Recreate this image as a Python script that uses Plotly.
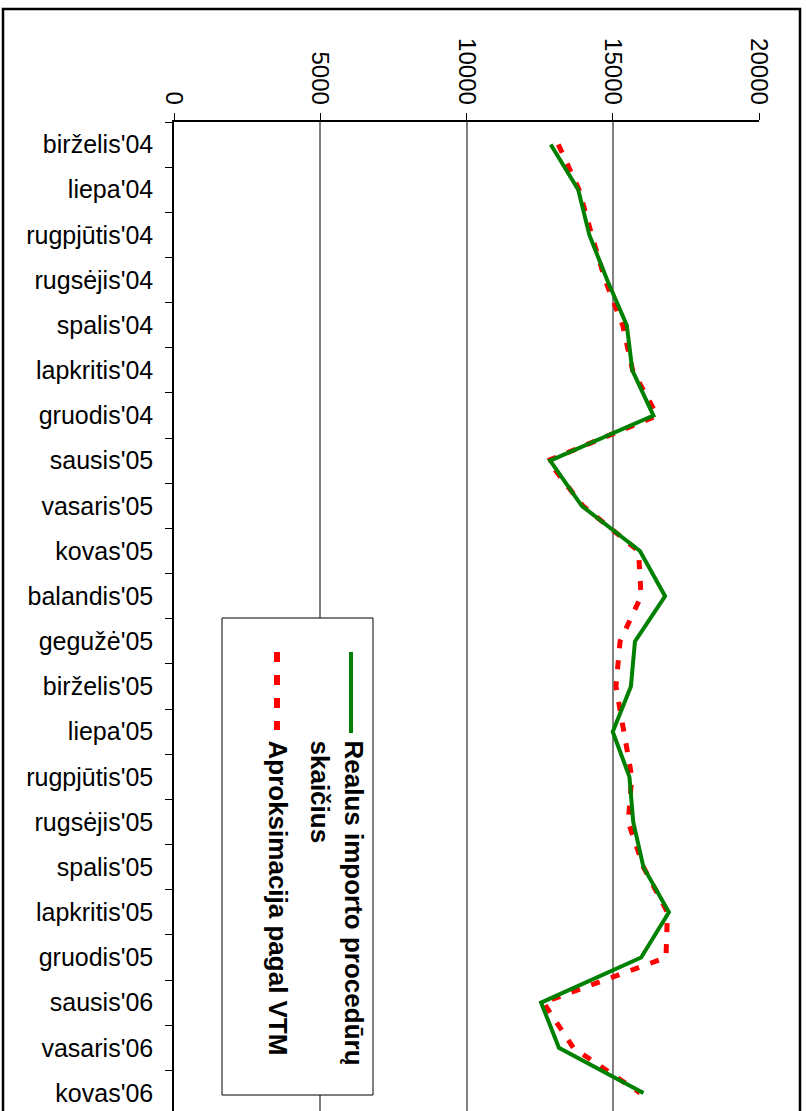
import plotly.graph_objects as go

months = ["birželis'04", "liepa'04", "rugpjūtis'04", "rugsėjis'04", "spalis'04",
          "lapkritis'04", "gruodis'04", "sausis'05", "vasaris'05", "kovas'05",
          "balandis'05", "gegužė'05", "birželis'05", "liepa'05", "rugpjūtis'05",
          "rugsėjis'05", "spalis'05", "lapkritis'05", "gruodis'05", "sausis'06",
          "vasaris'06", "kovas'06"]

realus = [12880, 13820, 14200, 14810, 15480, 15670, 16390, 12860, 13940, 15930,
          16790, 15760, 15620, 15000, 15570, 15700, 16050, 16920, 15970, 12550,
          13160, 16050]

aproksimacija = [13140, 13850, 14280, 14740, 15340, 15680, 16520, 12780, 13980, 15880,
                 15970, 15250, 15110, 15360, 15650, 15530, 16050, 16870, 16820, 12630,
                 13650, 15930]

x_ticks = [0, 5000, 10000, 15000, 20000]

name_real = "Realus importo procedūrų<br>skaičius"
name_aprox = "Aproksimacija pagal VTM"

W, H = 806, 1111
L, R, T, B = 174, 47, 122, 0
pw, ph = W - L - R, H - T - B

def px(xp):
    return (xp - L) / pw

def py(yp):
    return (H - B - yp) / ph

fig = go.Figure()
fig.add_trace(go.Scatter(x=aproksimacija, y=months, mode="lines", name=name_aprox,
                         line=dict(color="#FF0000", width=5, dash="9px,12px")))
fig.add_trace(go.Scatter(x=realus, y=months, mode="lines", name=name_real,
                         line=dict(color="#008000", width=4)))

shapes = [
    # outer frame
    dict(type="rect", xref="paper", yref="paper", x0=px(3), x1=px(800), y0=py(1130), y1=py(9),
         line=dict(color="black", width=2.5), layer="above"),
    # legend box
    dict(type="rect", xref="paper", yref="paper", x0=px(222), x1=px(373), y0=py(1095), y1=py(618),
         line=dict(color="black", width=1), fillcolor="white", layer="above"),
    dict(type="line", xref="paper", yref="paper", x0=px(351), x1=px(351), y0=py(652), y1=py(733),
         line=dict(color="#008000", width=4), layer="above"),
    dict(type="line", xref="paper", yref="paper", x0=px(277), x1=px(277), y0=py(652), y1=py(730),
         line=dict(color="#FF0000", width=6, dash="10px,13px"), layer="above"),
]

annotations = [
    dict(xref="paper", yref="paper", x=px(337), y=py(738), xanchor="center", yanchor="top",
         text="<b>Realus importo procedūrų<br>skaičius</b>", textangle=90, align="left",
         showarrow=False, font=dict(family="Liberation Sans, Arial", size=26, color="black")),
    dict(xref="paper", yref="paper", x=px(278), y=py(738), xanchor="center", yanchor="top",
         text="<b>Aproksimacija pagal VTM</b>", textangle=90, align="left",
         showarrow=False, font=dict(family="Liberation Sans, Arial", size=26, color="black")),
]

fig.update_layout(
    width=W, height=H,
    margin=dict(l=L, r=R, t=T, b=B, autoexpand=False),
    paper_bgcolor="white", plot_bgcolor="white",
    showlegend=False,
    shapes=shapes, annotations=annotations,
    font=dict(family="Liberation Sans, Arial", size=24, color="black"),
)
fig.update_xaxes(side="top", range=[0, 20000], tickvals=x_ticks,
                 ticktext=[str(v) for v in x_ticks], tickangle=90,
                 showgrid=True, gridcolor="#808080", gridwidth=1.5,
                 showline=True, linecolor="black", linewidth=1.5,
                 ticks="outside", ticklen=7, tickcolor="black",
                 zeroline=False, tickfont=dict(size=24))
fig.update_yaxes(type="category", categoryorder="array", categoryarray=months,
                 range=[21.4, -0.5], showgrid=False,
                 showline=True, linecolor="black", linewidth=1.5,
                 ticks="outside", ticklen=7, tickcolor="black", tickson="boundaries",
                 zeroline=False, tickfont=dict(size=25), ticklabelstandoff=14)

fig.write_html("out.html")
